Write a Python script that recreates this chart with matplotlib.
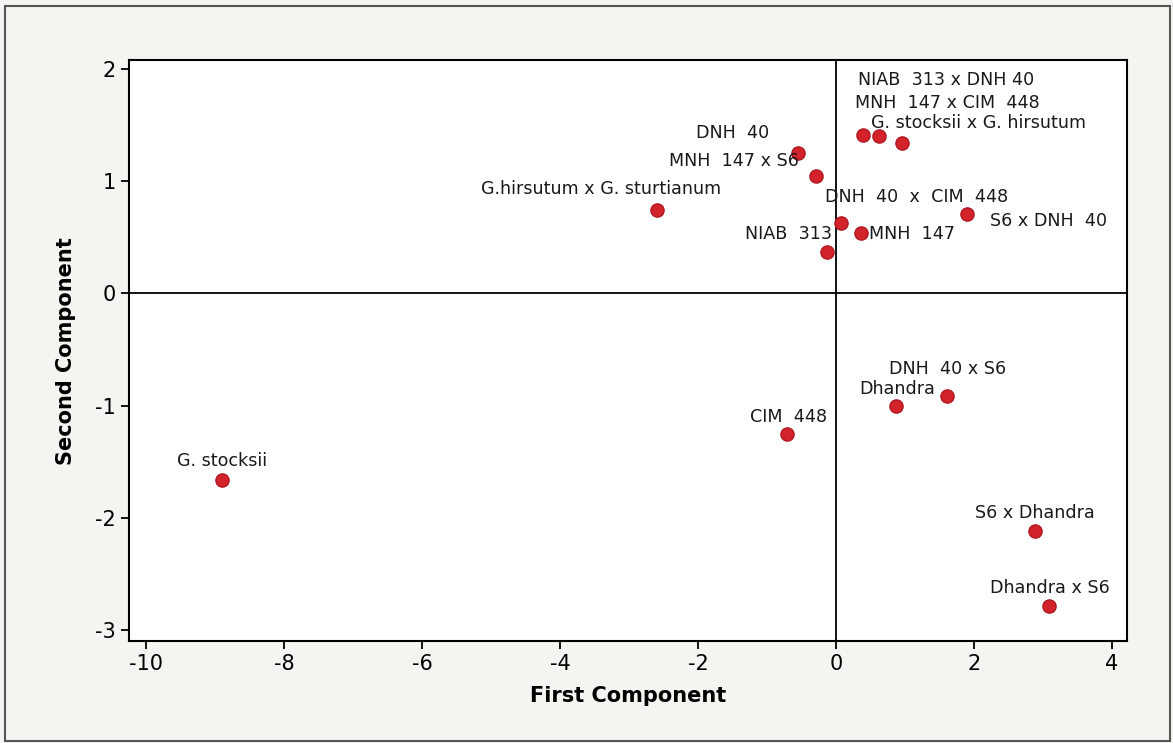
import numpy as np
import matplotlib.pyplot as plt
from matplotlib.patches import Rectangle

plt.rcParams['axes.unicode_minus'] = False

# genotype names and their scores on the first two principal components
names = ['G. stocksii', 'G.hirsutum x G. sturtianum', 'DNH  40', 'MNH  147 x S6',
         'NIAB  313', 'DNH  40  x  CIM  448', 'MNH  147', 'S6 x DNH  40',
         'NIAB  313 x DNH 40', 'MNH  147 x CIM  448', 'G. stocksii x G. hirsutum',
         'CIM  448', 'Dhandra', 'DNH  40 x S6', 'S6 x Dhandra', 'Dhandra x S6']
pc1 = [-8.90, -2.59, -0.55, -0.29, -0.13, 0.07, 0.36, 1.90,
       0.39, 0.62, 0.96, -0.71, 0.87, 1.61, 2.88, 3.09]
pc2 = [-1.66, 0.74, 1.25, 1.05, 0.37, 0.63, 0.54, 0.71,
       1.41, 1.40, 1.34, -1.25, -1.00, -0.91, -2.12, -2.79]

# label offsets from each point (pixels, x right / y up)
label_offsets = [(0, 19), (-56, 21), (-66, 20), (-82, 15), (-39, 18), (76, 26),
                 (51, -1), (81, -7), (83, 55), (68, 33), (76, 20), (1, 17),
                 (1, 17), (0, 27), (0, 18), (1, 18)]

fig = plt.figure(figsize=(11.73, 7.43), dpi=100)
fig.patch.set_facecolor('#f6f4f1')
# outer frame of the figure
fig.patches.append(Rectangle((5 / 1173, 2 / 743), 1 - 8 / 1173, 1 - 8 / 743,
                             transform=fig.transFigure, fill=False,
                             edgecolor='#555555', linewidth=1.5))

ax = fig.add_axes([0.110, 0.137, 0.851, 0.782])
ax.set_facecolor('white')

ax.axhline(0, color='black', linewidth=1.3, zorder=1)
ax.axvline(0, color='black', linewidth=1.3, zorder=1)

ax.scatter(pc1, pc2, s=90, color='#d2232a', edgecolors='#b01820', linewidths=1, zorder=3)

for name, x, y, off in zip(names, pc1, pc2, label_offsets):
    ax.annotate(name, (x, y), xytext=off, textcoords='offset pixels',
                ha='center', va='center', fontsize=12.6, color='#1a1a1a', zorder=4)

ax.set_xlim(-10.25, 4.22)
ax.set_ylim(-3.1, 2.08)
ax.set_xticks(np.arange(-10, 5, 2))
ax.set_yticks(np.arange(-3, 3, 1))
ax.tick_params(direction='out', length=6, width=1.3, labelsize=15, colors='black',
               top=False, right=False)
for sp in ax.spines.values():
    sp.set_linewidth(1.5)

ax.set_xlabel('First Component', fontsize=15, fontweight='bold', labelpad=8)
ax.set_ylabel('Second Component', fontsize=15, fontweight='bold', labelpad=14)

plt.savefig('out.png', dpi=100, facecolor=fig.get_facecolor())
